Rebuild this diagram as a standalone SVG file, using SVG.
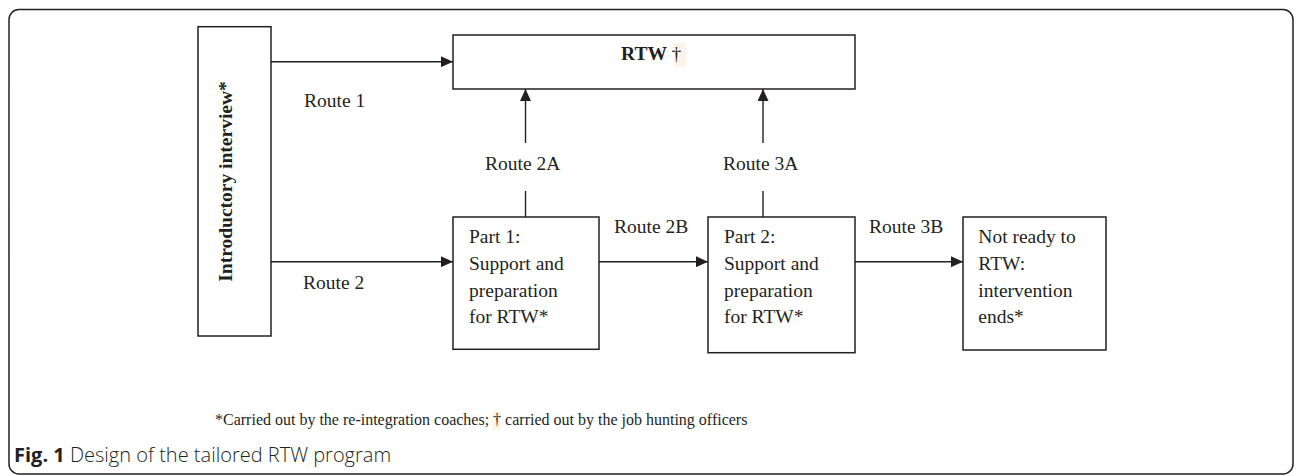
<svg xmlns="http://www.w3.org/2000/svg" width="1296" height="476" viewBox="0 0 1296 476">
  <style>
    .box { fill: #ffffff; stroke: #231f20; stroke-width: 1.5; }
    .conn { stroke: #231f20; stroke-width: 1.4; fill: none; }
    .t { font-family: "Liberation Serif", "Times New Roman", serif; font-size: 19.5px; fill: #231f20; }
    .b { font-weight: bold; }
    .fn { font-family: "Liberation Serif", "Times New Roman", serif; font-size: 16px; fill: #231f20; }
    .hl { fill: #fcf4e6; }
    .cap { font-family: "Open Sans", "Liberation Sans", sans-serif; font-size: 20px; fill: #231f20; }
  </style>
  <defs>
    <marker id="arrow" markerUnits="userSpaceOnUse" markerWidth="12" markerHeight="11" refX="12" refY="5.5" orient="auto">
      <path d="M0,0 L12,5.5 L0,11 Z" fill="#231f20"/>
    </marker>
  </defs>
  <rect x="0" y="0" width="1296" height="476" fill="#ffffff"/>
  <rect x="9" y="9.5" width="1284" height="464.5" rx="10" ry="10" fill="none" stroke="#231f20" stroke-width="1.5"/>

  <g id="connectors">
    <line class="conn" x1="271" y1="61.7" x2="453" y2="61.7" marker-end="url(#arrow)"/>
    <line class="conn" x1="271" y1="261.7" x2="453" y2="261.7" marker-end="url(#arrow)"/>
    <line class="conn" x1="599" y1="261.7" x2="708" y2="261.7" marker-end="url(#arrow)"/>
    <line class="conn" x1="855" y1="261.7" x2="963" y2="261.7" marker-end="url(#arrow)"/>
    <line class="conn" x1="525.5" y1="217" x2="525.5" y2="191"/>
    <line class="conn" x1="525.5" y1="143" x2="525.5" y2="89" marker-end="url(#arrow)"/>
    <line class="conn" x1="763" y1="217" x2="763" y2="191"/>
    <line class="conn" x1="763" y1="143" x2="763" y2="89" marker-end="url(#arrow)"/>
    <text class="t" x="304" y="107">Route 1</text>
    <text class="t" x="303" y="289">Route 2</text>
    <text class="t" x="485" y="170">Route 2A</text>
    <text class="t" x="614" y="233">Route 2B</text>
    <text class="t" x="723" y="170">Route 3A</text>
    <text class="t" x="869" y="233">Route 3B</text>
  </g>

  <g id="intro">
    <rect class="box" x="198" y="26.7" width="73" height="309.3"/>
    <text class="t b" font-size="20" text-anchor="middle" transform="translate(232,181.5) rotate(-90)">Introductory interview*</text>
  </g>

  <g id="rtw">
    <rect class="box" x="453" y="35" width="402" height="54"/>
    <rect class="hl" x="674" y="43" width="12" height="24"/>
    <text class="t" x="621" y="60"><tspan class="b">RTW </tspan>†</text>
  </g>

  <g id="part1">
    <rect class="box" x="453" y="217" width="146" height="132.3"/>
    <text class="t" x="469" y="242.7">Part 1:</text>
    <text class="t" x="469" y="269.6">Support and</text>
    <text class="t" x="469" y="296.5">preparation</text>
    <text class="t" x="469" y="323.3">for RTW*</text>
  </g>

  <g id="part2">
    <rect class="box" x="708" y="217" width="147" height="135.7"/>
    <text class="t" x="724" y="242.7">Part 2:</text>
    <text class="t" x="724" y="269.6">Support and</text>
    <text class="t" x="724" y="296.5">preparation</text>
    <text class="t" x="724" y="323.3">for RTW*</text>
  </g>

  <g id="notready">
    <rect class="box" x="963" y="217" width="143" height="133"/>
    <text class="t" x="978.3" y="242.7">Not ready to</text>
    <text class="t" x="978.3" y="269.6">RTW:</text>
    <text class="t" x="978.3" y="296.5">intervention</text>
    <text class="t" x="978.3" y="323.3">ends*</text>
  </g>

  <g id="footnote">
    <rect class="hl" x="492" y="411" width="9" height="19"/>
    <text class="fn" x="215" y="425">*Carried out by the re-integration coaches; † carried out by the job hunting officers</text>
  </g>

  <g id="caption">
    <text class="cap" x="14" y="462"><tspan font-weight="bold">Fig. 1</tspan><tspan font-weight="300"> Design of the tailored RTW program</tspan></text>
  </g>
</svg>
